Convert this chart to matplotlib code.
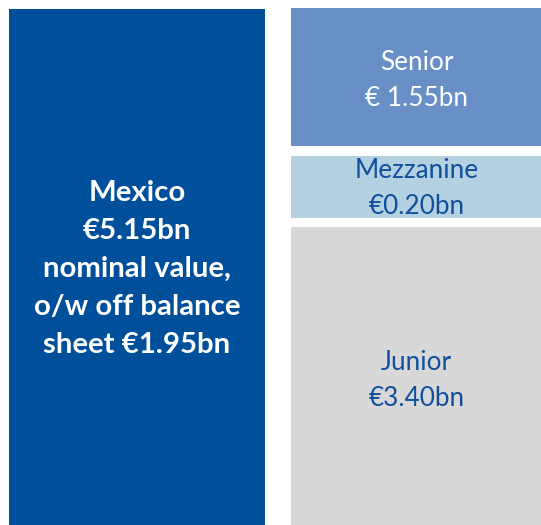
import matplotlib
matplotlib.use("Agg")
import matplotlib.pyplot as plt

# Дані: загальний пул та транші
pool_label = "Mexico"
pool_value = 5.15
off_balance = 1.95
tranches = ["Senior", "Mezzanine", "Junior"]
tranche_values = [1.55, 0.20, 3.40]
tranche_text = ["€ 1.55bn", "€0.20bn", "€3.40bn"]

# Розмітка (пікселі) - блоки не в масштабі
tranche_spans = [(8, 146), (156, 218), (227, 525)]
tranche_text_y = [80, 188, 380]
pool_span = (9, 525)
left_x = (9, 265)
right_x = (291, 542)

fill_colors = ["#6890c6", "#b3d1e1", "#d8d8d8"]
text_colors = ["white", "#0f4f9e", "#0f4f9e"]
pool_color = "#004f9b"

plt.rcParams['font.family'] = ['Lato', 'DejaVu Sans']

fig = plt.figure(figsize=(5.41, 5.25), dpi=100)
ax = fig.add_axes([0, 0, 1, 1])
ax.set_xlim(0, 541)
ax.set_ylim(525, 0)
ax.axis('off')

# Лівий блок
ax.bar((left_x[0] + left_x[1]) / 2, pool_span[1] - pool_span[0], bottom=pool_span[0],
       width=left_x[1] - left_x[0], color=pool_color)
ax.text((left_x[0] + left_x[1]) / 2, 269,
        f"{pool_label}\n€{pool_value:.2f}bn\nnominal value,\no/w off balance\nsheet €{off_balance:.2f}bn",
        ha='center', va='center', color='white', fontsize=21.2, fontweight='bold', linespacing=1.56)

# Праві блоки (транші)
for name, val, txt, (y0, y1), ty, fc, tc in zip(tranches, tranche_values, tranche_text,
                                                tranche_spans, tranche_text_y, fill_colors, text_colors):
    ax.bar((right_x[0] + right_x[1]) / 2, y1 - y0, bottom=y0,
           width=right_x[1] - right_x[0], color=fc)
    ax.text((right_x[0] + right_x[1]) / 2, ty, f"{name}\n{txt}",
            ha='center', va='center', color=tc, fontsize=18.8, linespacing=1.55)

fig.savefig("out.png", dpi=100)
